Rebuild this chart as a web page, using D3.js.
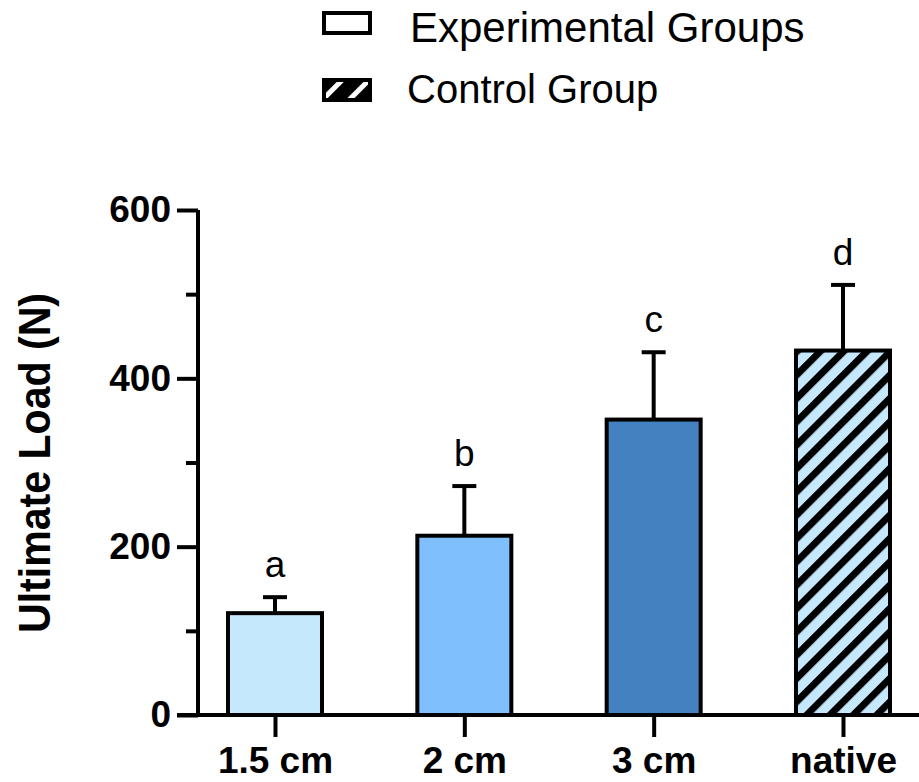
<!DOCTYPE html>
<html>
<head>
<meta charset="utf-8">
<script src="https://cdn.jsdelivr.net/npm/d3@7"></script>
<style>
  body { margin: 0; background: #fff; }
  text { font-family: "Liberation Sans", Arial, Helvetica, sans-serif; }
</style>
</head>
<body>
<div id="display"></div>
<script>
// data
const categories = ["1.5 cm", "2 cm", "3 cm", "native"];
const means = [121, 213, 351, 433];
const sds = [19, 59, 80, 78];
const letters = ["a", "b", "c", "d"];
const fills = ["#c6e8fc", "#80bffd", "#4381c0", "url(#hatch)"];
const yTicks = [0, 200, 400, 600];
const yMinor = [100, 300, 500];
const legendItems = ["Experimental Groups", "Control Group"];

const svg = d3.select('#display')
  .append('svg')
  .attr('width', 919)
  .attr('height', 782);

const defs = svg.append('defs');

// diagonal hatch for the native bar
const hatch = defs.append('pattern')
  .attr('id', 'hatch')
  .attr('patternUnits', 'userSpaceOnUse')
  .attr('width', 16.5)
  .attr('height', 16.5)
  .attr('patternTransform', 'rotate(45)');
hatch.append('rect').attr('width', 16.5).attr('height', 16.5).attr('fill', '#c6e8fc');
hatch.append('rect').attr('width', 7).attr('height', 16.5).attr('fill', '#000');

// legend hatch: mostly black with two white stripes
const lhatch = defs.append('pattern')
  .attr('id', 'lhatch')
  .attr('patternUnits', 'userSpaceOnUse')
  .attr('width', 19)
  .attr('height', 19)
  .attr('patternTransform', 'translate(338,0) rotate(45)');
lhatch.append('rect').attr('width', 19).attr('height', 19).attr('fill', '#000');
lhatch.append('rect').attr('x', 0).attr('width', 5).attr('height', 19).attr('fill', '#fff');

const y = d3.scaleLinear().domain([0, 600]).range([715, 210]);
const x = d3.scalePoint().domain(categories).range([275, 843]);
const barW = 94;

// bars
const bars = svg.append('g');
categories.forEach((c, i) => {
  bars.append('rect')
    .attr('x', x(c) - barW / 2)
    .attr('y', y(means[i]))
    .attr('width', barW)
    .attr('height', y(0) - y(means[i]))
    .attr('fill', fills[i])
    .attr('stroke', '#000')
    .attr('stroke-width', 4);

  // error bar (upper only)
  bars.append('line')
    .attr('x1', x(c)).attr('x2', x(c))
    .attr('y1', y(means[i])).attr('y2', y(means[i] + sds[i]))
    .attr('stroke', '#000').attr('stroke-width', 4);
  bars.append('line')
    .attr('x1', x(c) - 12).attr('x2', x(c) + 12)
    .attr('y1', y(means[i] + sds[i])).attr('y2', y(means[i] + sds[i]))
    .attr('stroke', '#000').attr('stroke-width', 4);

  bars.append('text')
    .attr('x', x(c))
    .attr('y', y(means[i] + sds[i]) - 20)
    .attr('text-anchor', 'middle')
    .attr('font-size', '37px')
    .text(letters[i]);
});

// y axis
const yAxis = svg.append('g')
  .attr('transform', 'translate(198,0)')
  .call(d3.axisLeft(y).tickValues(yTicks).tickSize(21).tickSizeOuter(0).tickPadding(6));
yAxis.select('.domain').attr('stroke-width', 4).attr('d', `M0,${y(600)}V${y(0)}`);
yAxis.selectAll('.tick line').attr('stroke-width', 4);
yAxis.selectAll('.tick text')
  .attr('font-size', '37px')
  .attr('font-weight', 'bold')
  .attr('font-family', '"Liberation Sans", Arial, sans-serif')
  .attr('fill', '#000');

const yMinorAxis = svg.append('g')
  .attr('transform', 'translate(198,0)')
  .call(d3.axisLeft(y).tickValues(yMinor).tickSize(12).tickFormat(''));
yMinorAxis.select('.domain').remove();
yMinorAxis.selectAll('.tick line').attr('stroke-width', 4);

// x axis
const xAxis = svg.append('g')
  .attr('transform', `translate(0,${y(0)})`)
  .call(d3.axisBottom(x).tickSize(22).tickSizeOuter(0).tickPadding(10));
xAxis.select('.domain').attr('stroke-width', 4).attr('d', 'M177,0H919');
xAxis.selectAll('.tick line').attr('stroke-width', 4);
xAxis.selectAll('.tick text')
  .attr('font-size', '37px')
  .attr('font-weight', 'bold')
  .attr('font-family', '"Liberation Sans", Arial, sans-serif')
  .attr('fill', '#000');

// y title
svg.append('text')
  .attr('transform', 'translate(50,463) rotate(-90)')
  .attr('text-anchor', 'middle')
  .attr('font-size', '45px')
  .attr('font-weight', 'bold')
  .attr('textLength', 340)
  .attr('lengthAdjust', 'spacingAndGlyphs')
  .text('Ultimate Load (N)');

// legend
const legend = svg.append('g');
legend.append('rect')
  .attr('x', 324).attr('y', 13).attr('width', 46).attr('height', 20)
  .attr('fill', '#fff').attr('stroke', '#000').attr('stroke-width', 4);
legend.append('rect')
  .attr('x', 324).attr('y', 80).attr('width', 46).attr('height', 20)
  .attr('fill', 'url(#lhatch)').attr('stroke', '#000').attr('stroke-width', 4);
legend.append('text')
  .attr('x', 410).attr('y', 42)
  .attr('font-size', '42px')
  .text(legendItems[0]);
legend.append('text')
  .attr('x', 407).attr('y', 103)
  .attr('font-size', '40px')
  .text(legendItems[1]);
</script>
</body>
</html>
